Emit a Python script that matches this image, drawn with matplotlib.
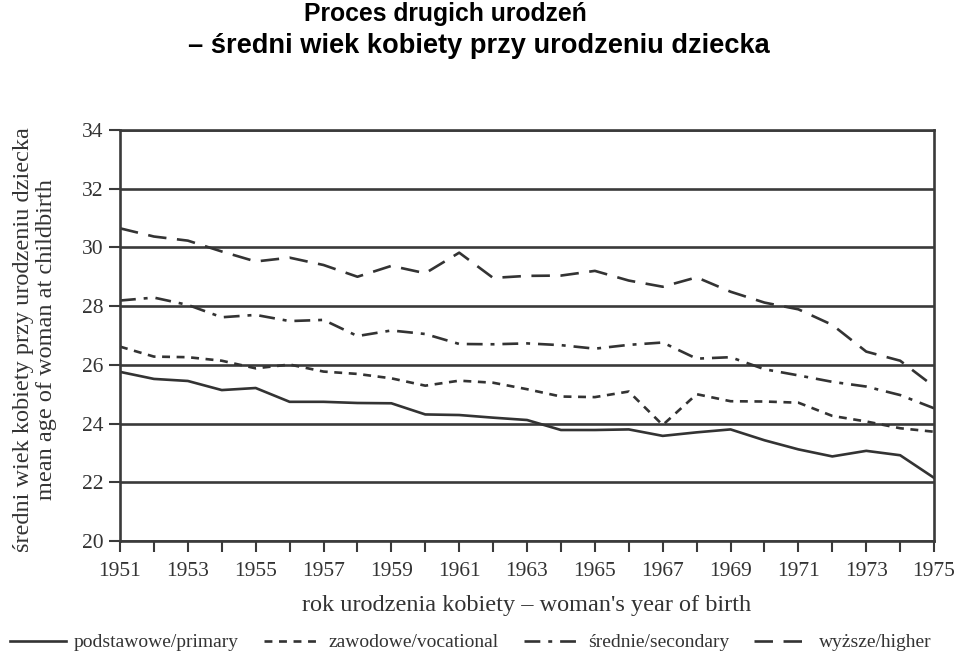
import matplotlib
matplotlib.use("Agg")
import matplotlib.pyplot as plt
import numpy as np

years = list(range(1951, 1976))
primary = [25.76, 25.52, 25.45, 25.14, 25.21, 24.74, 24.74, 24.70, 24.69, 24.31, 24.29, 24.20, 24.12,
           23.78, 23.78, 23.80, 23.58, 23.70, 23.80, 23.43, 23.12, 22.88, 23.07, 22.92, 22.15]
vocational = [26.62, 26.28, 26.26, 26.14, 25.88, 26.01, 25.77, 25.69, 25.54, 25.29, 25.46, 25.39, 25.17,
              24.92, 24.90, 25.09, 23.95, 25.00, 24.76, 24.75, 24.71, 24.26, 24.07, 23.84, 23.72]
secondary = [28.19, 28.29, 28.04, 27.62, 27.70, 27.49, 27.53, 26.98, 27.17, 27.05, 26.71, 26.70, 26.73,
             26.67, 26.55, 26.68, 26.76, 26.21, 26.26, 25.85, 25.64, 25.42, 25.26, 24.97, 24.52]
higher = [30.65, 30.37, 30.23, 29.86, 29.52, 29.65, 29.40, 29.00, 29.37, 29.12, 29.82, 28.96, 29.03,
          29.04, 29.20, 28.87, 28.66, 28.98, 28.49, 28.12, 27.89, 27.36, 26.45, 26.14, 25.26]

labels = ["podstawowe/primary", "zawodowe/vocational", "średnie/secondary", "wyższe/higher"]
yticks = [20, 22, 24, 26, 28, 30, 32, 34]
xticklabels = list(range(1951, 1976, 2))

title1 = "Proces drugich urodzeń"
title2 = "– średni wiek kobiety przy urodzeniu dziecka"
ylabel = "średni wiek kobiety przy urodzeniu dziecka\nmean age of woman at childbirth"
xlabel = "rok urodzenia kobiety – woman's year of birth"

serif = ["Liberation Serif", "DejaVu Serif"]
sans = ["Liberation Sans", "DejaVu Sans"]
col = "#333333"

fig = plt.figure(figsize=(9.6, 6.57), dpi=100)
ax = fig.add_axes([0.125, 0.1766, 0.848, 0.6256])

styles = [
    dict(linestyle="-"),
    dict(linestyle=(0, (3, 2.5))),
    dict(linestyle=(0, (6, 3, 1.5, 3))),
    dict(linestyle=(0, (7, 4))),
]
series = [primary, vocational, secondary, higher]
for s, lab, st in zip(series, labels, styles):
    ax.plot(years, s, color=col, lw=1.9, label=lab, **st)

ax.set_xlim(1951, 1975)
ax.set_ylim(20, 34)
ax.set_yticks(yticks)
ax.set_xticks(years)
ax.set_xticklabels([str(y) if y in xticklabels else "" for y in years])
ax.yaxis.grid(True, color="#3a3a3a", lw=1.9)
ax.set_axisbelow(True)
for sp in ax.spines.values():
    sp.set_color("#3a3a3a")
    sp.set_linewidth(1.9)
ax.tick_params(axis="both", direction="out", length=8, width=1.5, color="#3a3a3a",
               labelcolor="#333333")
ax.tick_params(axis="x", pad=7)
ax.tick_params(axis="y", pad=4)
for t in ax.get_xticklabels() + ax.get_yticklabels():
    t.set_fontfamily(serif)
    t.set_fontsize(15.5)

ax.set_ylabel(ylabel, fontfamily=serif, fontsize=17.5, color="#333333", linespacing=1.15)
ax.yaxis.set_label_coords(-0.077, 0.49)
ax.set_xlabel(xlabel, fontfamily=serif, fontsize=17.5, color="#333333")
ax.xaxis.set_label_coords(0.5, -0.132)

fig.text(445 / 960, 1 - 14 / 657, title1, ha="center", va="center", fontsize=17.8,
         fontweight="bold", fontfamily=sans)
fig.text(479 / 960, 1 - 46 / 657, title2, ha="center", va="center", fontsize=19.6,
         fontweight="bold", fontfamily=sans)

leg = fig.legend(loc="center", bbox_to_anchor=(0.49, 0.022), ncol=4, frameon=False,
                 prop={"family": serif, "size": 14}, handlelength=2.9, columnspacing=1.3,
                 handletextpad=0.4)
for t in leg.get_texts():
    t.set_color("#333333")

fig.savefig("out.png", dpi=100)
